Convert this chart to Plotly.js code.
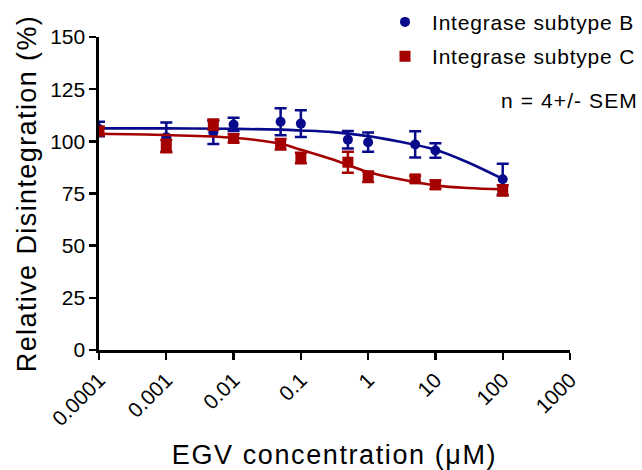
<!DOCTYPE html>
<html>
<head>
<meta charset="utf-8">
<script src="https://cdn.plot.ly/plotly-3.0.1.min.js"></script>
<style>
  html, body { margin: 0; padding: 0; background: #fff; }
  #chart { width: 642px; height: 470px; }
  text.xtitle { letter-spacing: 1.6px !important; }
  text.ytitle { letter-spacing: 1.4px !important; }
  text.legendtext { letter-spacing: 0.8px !important; }
  text.annotation-text { letter-spacing: 1.1px !important; }
</style>
</head>
<body>
<div id="chart"></div>
<script>
// Concentrations (µM)
const concB = [0.0001, 0.001, 0.005, 0.01, 0.05, 0.1, 0.5, 1, 5, 10, 100];
const concC = [0.0001, 0.001, 0.005, 0.01, 0.05, 0.1, 0.5, 1, 5, 10, 100];

// Subtype B: mean and SEM (%)
const meanB = [105.9, 102.0, 104.2, 108.1, 109.4, 108.5, 100.8, 99.6, 98.5, 95.6, 81.8];
const semB  = [3.5, 7.0, 5.5, 3.2, 6.5, 6.4, 4.2, 4.6, 6.3, 3.5, 7.5];

// Subtype C: mean and SEM (%)
const meanC = [104.9, 97.8, 108.0, 101.4, 98.6, 92.0, 90.0, 83.0, 82.0, 79.2, 76.5];
const semC  = [2.0, 3.0, 2.5, 2.0, 2.5, 2.5, 5.0, 2.5, 1.5, 2.0, 2.5];

// Fitted curves
const curveX  = [0.0001, 0.001, 0.01, 0.05, 0.1, 0.3, 1, 3, 10, 30, 100];
const curveB  = [106.2, 106.2, 106.0, 105.6, 105.2, 104.4, 102.5, 99.8, 96.0, 90.0, 82.0];
const curveC  = [103.6, 103.0, 101.7, 98.8, 96.0, 91.3, 85.3, 81.8, 78.9, 77.6, 77.0];

// Axis ticks
const xTickVals = [0.0001, 0.001, 0.01, 0.1, 1, 10, 100, 1000];
const xTickText = ['0.0001', '0.001', '0.01', '0.1', '1', '10', '100', '1000'];
const yTickVals = [0, 25, 50, 75, 100, 125, 150];

const blue = 'rgb(8,10,140)';
const red = 'rgb(165,0,0)';
const FONT = 'Liberation Sans, Arial, sans-serif';

const traces = [
  {
    x: curveX, y: curveB, mode: 'lines', type: 'scatter',
    line: {color: blue, width: 2.6, shape: 'spline', smoothing: 1},
    showlegend: false, hoverinfo: 'skip'
  },
  {
    x: concB, y: meanB, mode: 'markers', type: 'scatter',
    name: 'Integrase subtype B', legendgroup: 'b',
    marker: {symbol: 'circle', size: 10, color: blue},
    error_y: {type: 'data', array: semB, visible: true, color: blue, thickness: 2.5, width: 6}
  },
  {
    x: curveX, y: curveC, mode: 'lines', type: 'scatter',
    line: {color: red, width: 2.6, shape: 'spline', smoothing: 1},
    showlegend: false, hoverinfo: 'skip'
  },
  {
    x: concC, y: meanC, mode: 'markers', type: 'scatter',
    name: 'Integrase subtype C', legendgroup: 'c',
    marker: {symbol: 'square', size: 11, color: red},
    error_y: {type: 'data', array: semC, visible: true, color: red, thickness: 2.5, width: 6}
  }
];

const layout = {
  width: 642, height: 470,
  margin: {l: 99, r: 0, t: 0, b: 120, pad: 0},
  paper_bgcolor: '#fff', plot_bgcolor: '#fff',
  font: {family: FONT, color: '#000', size: 21},
  showlegend: true,
  legend: {
    x: 0.5138, y: 0.995, xanchor: 'left', yanchor: 'top',
    font: {family: FONT, size: 21, color: '#000'},
    bgcolor: 'rgba(0,0,0,0)', borderwidth: 0,
    itemwidth: 44, tracegroupgap: 4, traceorder: 'grouped'
  },
  xaxis: {
    type: 'log', range: [-4, 3], domain: [0, 471 / 543],
    tickmode: 'array', tickvals: xTickVals, ticktext: xTickText,
    tickangle: -45,
    showline: true, linecolor: '#000', linewidth: 2.6,
    ticks: 'outside', ticklen: 7, tickwidth: 2.4, tickcolor: '#000',
    showgrid: false, zeroline: false,
    tickfont: {family: FONT, size: 21, color: '#000'},
    title: {text: 'EGV concentration (\u03bcM)', font: {family: FONT, size: 27, color: '#000'}, standoff: 20}
  },
  yaxis: {
    range: [0, 150], domain: [0, 313 / 350],
    tickmode: 'array', tickvals: yTickVals,
    showline: true, linecolor: '#000', linewidth: 2.6,
    ticks: 'outside', ticklen: 7, tickwidth: 2.4, tickcolor: '#000',
    showgrid: false, zeroline: false,
    tickfont: {family: FONT, size: 21, color: '#000'},
    title: {text: 'Relative Disintegration (%)', font: {family: FONT, size: 27, color: '#000'}, standoff: 6}
  },
  annotations: [
    {
      xref: 'paper', yref: 'paper', x: 0.9963, y: 0.714,
      xanchor: 'right', yanchor: 'middle', showarrow: false,
      text: 'n = 4+/- SEM', font: {family: FONT, size: 21, color: '#000'}
    }
  ]
};

Plotly.newPlot('chart', traces, layout, {displayModeBar: false, staticPlot: true});
</script>
</body>
</html>
